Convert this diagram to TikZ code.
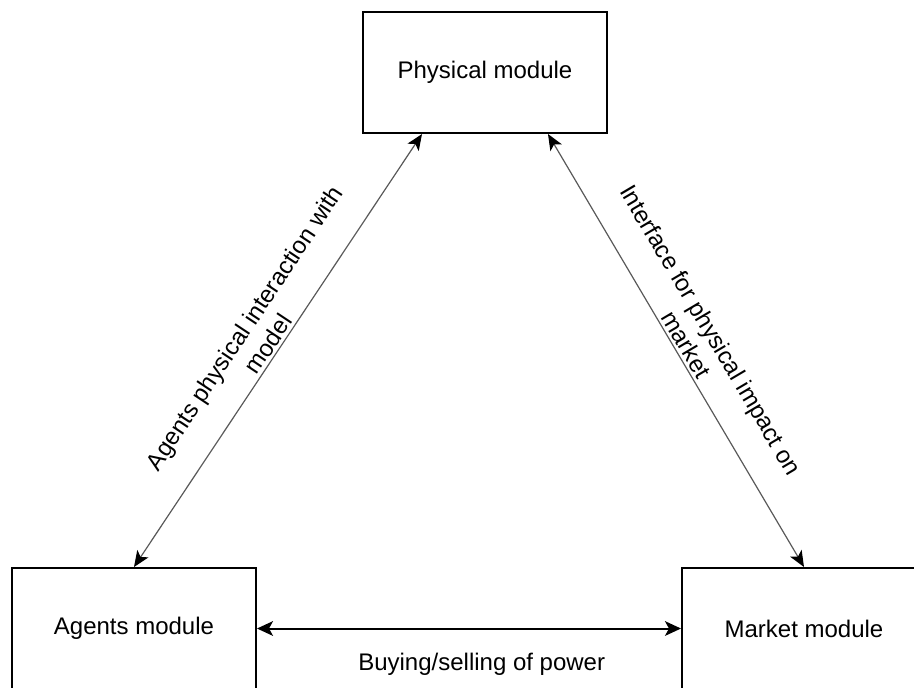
\documentclass[tikz,border=0pt]{standalone}
\usepackage{fontspec}
\setmainfont{Liberation Sans}
\usetikzlibrary{arrows.meta,calc}
\tikzset{
  module/.style={draw, line width=1.5pt, minimum width=183pt, minimum height=90.75pt, inner sep=0pt},
  link/.style={{Stealth[length=12pt,width=10pt,inset=3pt,black]}-{Stealth[length=12pt,width=10pt,inset=3pt,black]}, line width=0.9pt, draw=black!65},
  power/.style={{Stealth[length=12pt,width=11pt,inset=3pt]}-{Stealth[length=12pt,width=11pt,inset=3pt]}, line width=1.5pt}
}
\begin{document}
\begin{tikzpicture}[x=0.75pt, y=-0.75pt, font=\fontsize{18}{21.6}\selectfont]
      \useasboundingbox (0, 0) rectangle (914, 687);

      \node [module] (phys) at (485, 72.5) {Physical module};
      \node [module] (agents) at (134, 628.5) {Agents module};
      \node [module] (market) at (804, 628.5) {Market module};

      \draw [link] (agents.north) -- ($(phys.south)+(-63, 0)$) node [midway, sloped, above, align=center, inner sep=2pt] {Agents physical interaction with\\model};
      \draw [link] ($(phys.south)+(63, 0)$) -- (market.north) node [midway, sloped, above, align=center, inner sep=2pt] {Interface for physical impact on\\market};
      \draw [power] (agents.east) -- (market.west) node [pos=0.53, below=14pt] {Buying/selling of power};
    \end{tikzpicture}
\end{document}
